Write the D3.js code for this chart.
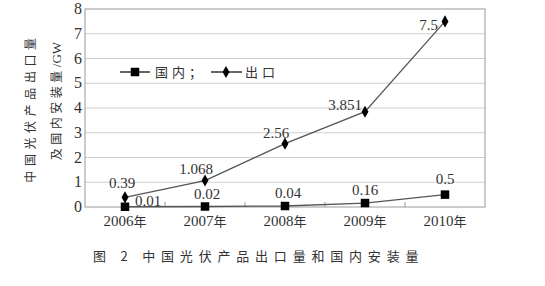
<!DOCTYPE html>
<meta charset="utf-8">
<style>
    body { margin: 0; background: #fff; }
    text { fill: #333; }
    .num { font-family: "Liberation Serif", "DejaVu Serif", serif; font-size: 15px; }
    .cjk { font-family: "Noto Sans CJK SC", sans-serif; }
</style>
<script src="https://d3js.org/d3.v7.min.js"></script>
<div id="chart"></div>
<script>
    // data (GW)
    var years = ["2006", "2007", "2008", "2009", "2010"];
    var domestic = [0.01, 0.02, 0.04, 0.16, 0.5];
    var exports = [0.39, 1.068, 2.56, 3.851, 7.5];
    var yTicks = [0, 1, 2, 3, 4, 5, 6, 7, 8];

    var W = 545, H = 286;
    var plotL = 85, plotR = 485, plotT = 9, plotB = 207;

    var svg = d3.select("#chart").append("svg")
        .attr("width", W).attr("height", H);

    var x = d3.scaleBand().domain(years).range([plotL, plotR]).padding(0);
    var y = d3.scaleLinear().domain([0, 8]).range([plotB, plotT]);
    var cx = function(d) { return x(d) + x.bandwidth() / 2; };

    // grid lines
    svg.append("g").selectAll("line")
        .data(yTicks.filter(function(t) { return t > 0 && t < 8; }))
        .enter().append("line")
        .attr("x1", plotL).attr("x2", plotR)
        .attr("y1", function(d) { return y(d); })
        .attr("y2", function(d) { return y(d); })
        .attr("stroke", "#cfcfcf").attr("stroke-width", 1);

    // frame
    svg.append("rect")
        .attr("x", plotL).attr("y", plotT)
        .attr("width", plotR - plotL).attr("height", plotB - plotT)
        .attr("fill", "none").attr("stroke", "#9a9a9a").attr("stroke-width", 1);

    // y axis labels
    svg.append("g").selectAll("text")
        .data(yTicks).enter().append("text")
        .attr("class", "num")
        .attr("x", plotL - 3)
        .attr("y", function(d) { return y(d) + 5; })
        .attr("text-anchor", "end")
        .style("font-size", "16px")
        .text(function(d) { return d; });

    // x ticks at band boundaries
    svg.append("g").selectAll("line")
        .data(years.slice(1)).enter().append("line")
        .attr("x1", function(d) { return x(d); })
        .attr("x2", function(d) { return x(d); })
        .attr("y1", plotB).attr("y2", plotB - 5)
        .attr("stroke", "#9a9a9a");

    // x labels
    var xl = svg.append("g").selectAll("text")
        .data(years).enter().append("text")
        .attr("x", function(d) { return cx(d); })
        .attr("y", plotB + 19)
        .attr("text-anchor", "middle");
    xl.append("tspan").attr("class", "num").text(function(d) { return d; });
    xl.append("tspan").attr("class", "cjk").style("font-size", "13px").text("年");

    var line = d3.line()
        .x(function(d, i) { return cx(years[i]); })
        .y(function(d) { return y(d); });

    svg.append("path").datum(exports)
        .attr("d", line).attr("fill", "none")
        .attr("stroke", "#555").attr("stroke-width", 1.3);
    svg.append("path").datum(domestic)
        .attr("d", line).attr("fill", "none")
        .attr("stroke", "#555").attr("stroke-width", 1.3);

    var diamond = d3.symbol().type(d3.symbolDiamond).size(42);
    var square = d3.symbol().type(d3.symbolSquare).size(72);

    svg.append("g").selectAll("path")
        .data(exports).enter().append("path")
        .attr("d", diamond)
        .attr("transform", function(d, i) { return "translate(" + cx(years[i]) + "," + y(d) + ")"; })
        .attr("fill", "#000");
    svg.append("g").selectAll("path")
        .data(domestic).enter().append("path")
        .attr("d", square)
        .attr("transform", function(d, i) { return "translate(" + cx(years[i]) + "," + y(d) + ")"; })
        .attr("fill", "#000");

    // value labels
    var expPlace = [[-3, -9, "middle"], [-9, -7, "middle"], [-9, -6, "middle"], [-3, -2, "end"], [-7, 9, "end"]];
    var domPlace = [[10, -1, "start"], [2, -8, "middle"], [3, -8, "middle"], [0, -8, "middle"], [0, -11, "middle"]];

    svg.append("g").selectAll("text")
        .data(exports).enter().append("text")
        .attr("class", "num")
        .attr("x", function(d, i) { return cx(years[i]) + expPlace[i][0]; })
        .attr("y", function(d, i) { return y(d) + expPlace[i][1]; })
        .attr("text-anchor", function(d, i) { return expPlace[i][2]; })
        .text(function(d) { return d; });
    svg.append("g").selectAll("text")
        .data(domestic).enter().append("text")
        .attr("class", "num")
        .attr("x", function(d, i) { return cx(years[i]) + domPlace[i][0]; })
        .attr("y", function(d, i) { return y(d) + domPlace[i][1]; })
        .attr("text-anchor", function(d, i) { return domPlace[i][2]; })
        .text(function(d) { return d; });

    // legend
    var lg = svg.append("g");
    lg.append("line").attr("x1", 120).attr("x2", 150).attr("y1", 72).attr("y2", 72)
        .attr("stroke", "#333").attr("stroke-width", 1.5);
    lg.append("path").attr("d", square).attr("transform", "translate(135,72)").attr("fill", "#000");
    lg.append("text").attr("class", "cjk").attr("x", 155).attr("y", 77)
        .style("font-size", "13px").style("letter-spacing", "4px").text("国内；");
    lg.append("line").attr("x1", 211).attr("x2", 242).attr("y1", 72).attr("y2", 72)
        .attr("stroke", "#333").attr("stroke-width", 1.5);
    lg.append("path").attr("d", diamond).attr("transform", "translate(226,72)").attr("fill", "#000");
    lg.append("text").attr("class", "cjk").attr("x", 245).attr("y", 77)
        .style("font-size", "13px").style("letter-spacing", "4px").text("出口");

    // y axis title (two rotated lines)
    svg.append("text").attr("class", "cjk")
        .attr("transform", "translate(35,108) rotate(-90)")
        .attr("text-anchor", "middle")
        .style("font-size", "12px").style("letter-spacing", "4.6px")
        .text("中国光伏产品出口量");
    var t2 = svg.append("text").attr("class", "cjk")
        .attr("transform", "translate(61,101) rotate(-90)")
        .attr("text-anchor", "middle")
        .style("font-size", "12px").style("letter-spacing", "3.5px");
    t2.append("tspan").text("及国内安装量");
    t2.append("tspan").attr("class", "num").style("font-size", "13px").style("letter-spacing", "0px").text("/GW");

    // caption
    svg.append("text").attr("class", "cjk")
        .attr("x", 93).attr("y", 261)
        .style("font-size", "13px").style("letter-spacing", "5.8px")
        .text("图 2 中国光伏产品出口量和国内安装量");
</script>
